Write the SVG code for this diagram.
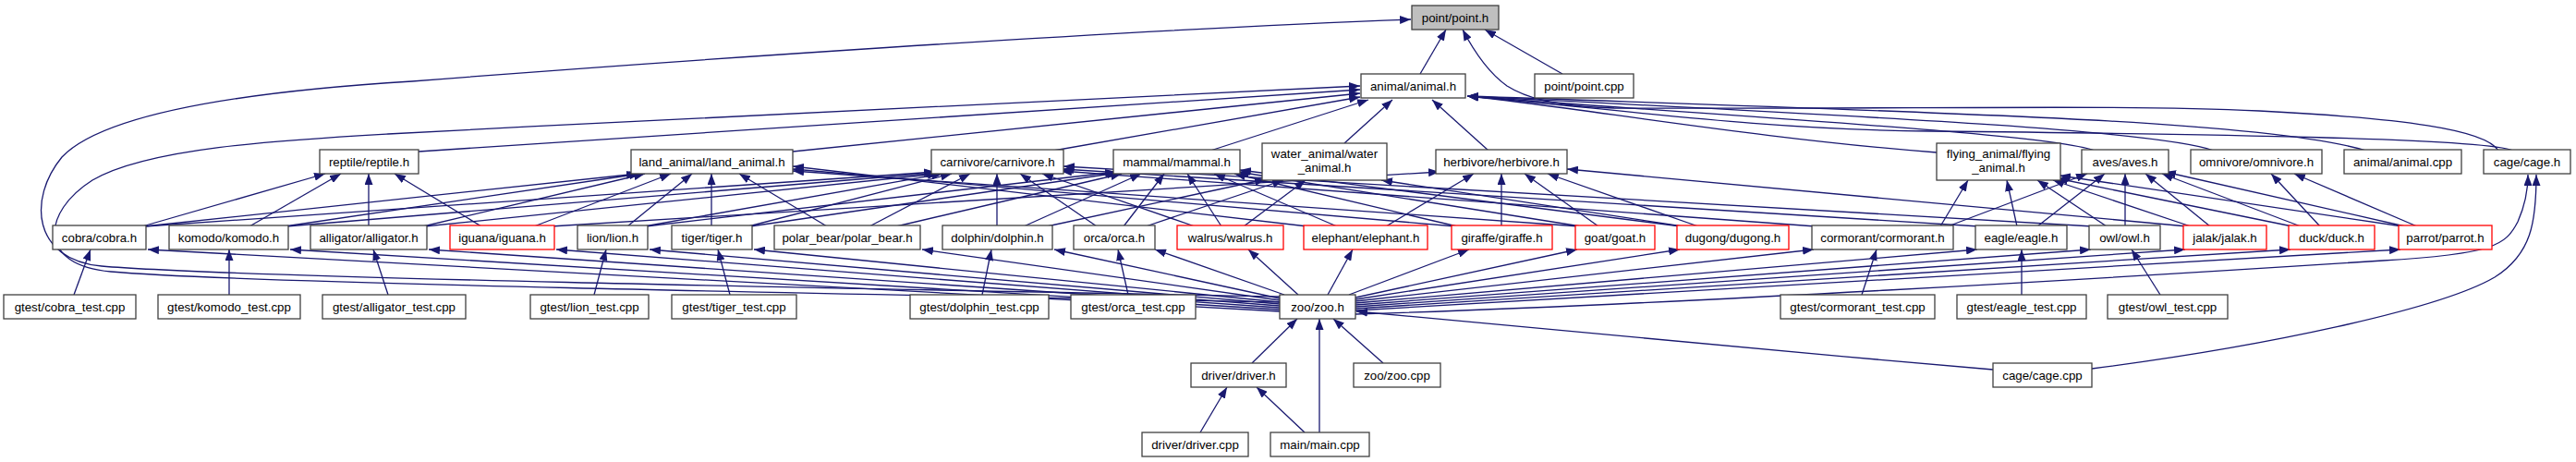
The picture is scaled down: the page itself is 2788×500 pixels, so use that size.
<svg xmlns="http://www.w3.org/2000/svg" width="2788" height="500" viewBox="0 0 2788 500">
<defs>
<marker id="ah" viewBox="0 0 12 9" refX="12" refY="4.5" markerWidth="12" markerHeight="9" orient="auto" markerUnits="userSpaceOnUse"><path d="M0,0 L12,4.5 L0,9 z" fill="#191970"/></marker>
<style>
.n rect{fill:#fff;stroke:#404040;stroke-width:1.3}
.n.r rect{stroke:#ff0000}
.n.root rect{fill:#bfbfbf}
text{font-family:"Liberation Sans",Arial,sans-serif;font-size:13.3px;text-anchor:middle;fill:#000}
.e path{fill:none;stroke:#191970;stroke-width:1.3;marker-end:url(#ah)}
</style>
</defs>
<rect width="2788" height="500" fill="#fff"/>
<g id="edges" class="e">
<path d="M1537,80 L1565,32"/>
<path d="M1691,80 L1607,32"/>
<path d="M2704,163 C2690,140 2600,128 2445,120 C2300,113 2100,118 1747,117 C1680,115 1650,105 1631,93 C1610,78 1595,55 1583,32"/>
<path d="M1385,321 C900,312 250,300 110,288 C35,281 30,215 67,170 C110,125 250,100 446,88 C700,68 1200,33 1527,21"/>
<path d="M1385,327 C900,318 250,306 120,294 C40,287 45,230 100,195 C160,160 300,152 420,145 C800,125 1200,105 1472,93"/>
<path d="M453,164 L1472,97"/>
<path d="M858,164 L1472,101"/>
<path d="M1140,163 L1472,105"/>
<path d="M1310,163 L1481,108"/>
<path d="M1455,155 L1507,108"/>
<path d="M1611,163 L1550,108"/>
<path d="M2096,165 C1900,150 1700,115 1588,104"/>
<path d="M2267,163 C2220,145 1900,128 1588,104"/>
<path d="M2396,163 C2330,140 2000,125 1588,104"/>
<path d="M2561,163 C2450,130 2100,122 1588,104"/>
<path d="M2720,163 C2690,150 2400,145 2088,142 C1900,140 1750,118 1588,104"/>
<path d="M154,245 L352,188"/>
<path d="M270,245 L369,188"/>
<path d="M399,245 L399,188"/>
<path d="M521,245 L427,188"/>
<path d="M156,245 L690,188"/>
<path d="M308,245 L693,188"/>
<path d="M458,245 L698,188"/>
<path d="M578,245 L726,188"/>
<path d="M679,245 L749,188"/>
<path d="M770,245 L770,188"/>
<path d="M895,245 L800,188"/>
<path d="M1415,245 L858,180"/>
<path d="M1575,245 L858,183"/>
<path d="M1709,245 L858,185"/>
<path d="M157,245 L1012,186"/>
<path d="M310,245 L1014,187"/>
<path d="M460,245 L1016,188"/>
<path d="M697,245 L1020,188"/>
<path d="M810,245 L1030,188"/>
<path d="M941,245 L1050,188"/>
<path d="M1079,245 L1079,188"/>
<path d="M1187,245 L1104,188"/>
<path d="M1293,245 L1128,188"/>
<path d="M1965,245 L1148,185"/>
<path d="M2142,245 L1150,183"/>
<path d="M2265,245 L1151,180"/>
<path d="M699,245 L1208,186"/>
<path d="M812,245 L1210,187"/>
<path d="M970,245 L1214,188"/>
<path d="M1108,245 L1235,188"/>
<path d="M1216,245 L1260,188"/>
<path d="M1322,245 L1285,188"/>
<path d="M1447,245 L1314,188"/>
<path d="M1577,245 L1336,188"/>
<path d="M1711,245 L1340,186"/>
<path d="M1819,245 L1342,184"/>
<path d="M1133,245 L1370,194"/>
<path d="M1240,245 L1389,195"/>
<path d="M1346,245 L1413,195"/>
<path d="M1821,245 L1495,195"/>
<path d="M596,245 L1558,186"/>
<path d="M1500,245 L1595,188"/>
<path d="M1625,245 L1625,188"/>
<path d="M1730,245 L1650,188"/>
<path d="M1838,245 L1675,188"/>
<path d="M2367,245 L1696,183"/>
<path d="M2100,245 L2130,195"/>
<path d="M2183,245 L2172,195"/>
<path d="M2280,245 L2205,195"/>
<path d="M2371,245 L2222,195"/>
<path d="M2481,245 L2226,193"/>
<path d="M2600,245 L2229,190"/>
<path d="M2108,245 L2259,188"/>
<path d="M2205,245 L2278,188"/>
<path d="M2300,245 L2300,188"/>
<path d="M2392,245 L2322,188"/>
<path d="M2490,245 L2340,188"/>
<path d="M2603,245 L2343,186"/>
<path d="M2511,245 L2458,188"/>
<path d="M2616,245 L2483,188"/>
<path d="M1385,337 L160,270"/>
<path d="M1385,335 L314,270"/>
<path d="M1385,333 L464,270"/>
<path d="M1385,331 L602,270"/>
<path d="M1385,329 L703,270"/>
<path d="M1385,327 L816,270"/>
<path d="M1385,325 L998,270"/>
<path d="M1385,323 L1141,270"/>
<path d="M1390,319 L1250,270"/>
<path d="M1405,319 L1351,270"/>
<path d="M1437,319 L1464,270"/>
<path d="M1460,319 L1590,270"/>
<path d="M1467,322 L1707,270"/>
<path d="M1467,324 L1818,270"/>
<path d="M1467,326 L1963,270"/>
<path d="M1467,328 L2140,270"/>
<path d="M1467,330 L2263,270"/>
<path d="M1467,332 L2365,270"/>
<path d="M1467,334 L2479,270"/>
<path d="M1467,336 L2598,270"/>
<path d="M80,319 L98,270"/>
<path d="M248,319 L248,270"/>
<path d="M420,319 L404,270"/>
<path d="M643,319 L656,270"/>
<path d="M790,319 L777,270"/>
<path d="M1063,319 L1073,270"/>
<path d="M1221,319 L1210,270"/>
<path d="M2015,319 L2031,270"/>
<path d="M2188,319 L2188,270"/>
<path d="M2338,319 L2307,270"/>
<path d="M1355,393 L1404,345"/>
<path d="M1497,393 L1443,345"/>
<path d="M1428,468 L1428,345"/>
<path d="M1299,468 L1328,419"/>
<path d="M1412,468 L1360,419"/>
<path d="M2157,400 C1900,378 1600,350 1468,337"/>
<path d="M2264,399 C2450,375 2640,335 2700,300 C2740,275 2745,240 2745,189"/>
<path d="M1467,340 C1800,330 2300,300 2579,282 C2700,275 2712,265 2725,240 C2733,222 2736,205 2736,189"/>
</g>
<g id="n_point_h" class="n root"><rect x="1528" y="6" width="94" height="26"/><text x="1575" y="23.5">point/point.h</text></g>
<g id="n_animal_h" class="n"><rect x="1473" y="80" width="113" height="26"/><text x="1529.5" y="97.5">animal/animal.h</text></g>
<g id="n_point_cpp" class="n"><rect x="1661" y="80" width="107" height="26"/><text x="1714.5" y="97.5">point/point.cpp</text></g>
<g id="n_reptile" class="n"><rect x="346" y="162" width="107" height="26"/><text x="399.5" y="179.5">reptile/reptile.h</text></g>
<g id="n_land_animal" class="n"><rect x="683" y="162" width="175" height="26"/><text x="770.5" y="179.5">land_animal/land_animal.h</text></g>
<g id="n_carnivore" class="n"><rect x="1008" y="162" width="143" height="26"/><text x="1079.5" y="179.5">carnivore/carnivore.h</text></g>
<g id="n_mammal" class="n"><rect x="1205" y="162" width="137" height="26"/><text x="1273.5" y="179.5">mammal/mammal.h</text></g>
<g id="n_water_animal" class="n"><rect x="1366" y="155" width="135" height="40"/><text x="1433.5" y="171">water_animal/water</text><text x="1433.5" y="186">_animal.h</text></g>
<g id="n_herbivore" class="n"><rect x="1554" y="162" width="142" height="26"/><text x="1625" y="179.5">herbivore/herbivore.h</text></g>
<g id="n_flying_animal" class="n"><rect x="2096" y="155" width="134" height="40"/><text x="2163" y="171">flying_animal/flying</text><text x="2163" y="186">_animal.h</text></g>
<g id="n_aves" class="n"><rect x="2253" y="162" width="94" height="26"/><text x="2300" y="179.5">aves/aves.h</text></g>
<g id="n_omnivore" class="n"><rect x="2371" y="162" width="142" height="26"/><text x="2442" y="179.5">omnivore/omnivore.h</text></g>
<g id="n_animal_cpp" class="n"><rect x="2537" y="162" width="127" height="26"/><text x="2600.5" y="179.5">animal/animal.cpp</text></g>
<g id="n_cage_h" class="n"><rect x="2688" y="162" width="94" height="26"/><text x="2735" y="179.5">cage/cage.h</text></g>
<g id="n_cobra" class="n"><rect x="57" y="244" width="101" height="26"/><text x="107.5" y="261.5">cobra/cobra.h</text></g>
<g id="n_komodo" class="n"><rect x="183" y="244" width="129" height="26"/><text x="247.5" y="261.5">komodo/komodo.h</text></g>
<g id="n_alligator" class="n"><rect x="336" y="244" width="126" height="26"/><text x="399" y="261.5">alligator/alligator.h</text></g>
<g id="n_iguana" class="n r"><rect x="487" y="244" width="113" height="26"/><text x="543.5" y="261.5">iguana/iguana.h</text></g>
<g id="n_lion" class="n"><rect x="625" y="244" width="76" height="26"/><text x="663" y="261.5">lion/lion.h</text></g>
<g id="n_tiger" class="n"><rect x="727" y="244" width="87" height="26"/><text x="770.5" y="261.5">tiger/tiger.h</text></g>
<g id="n_polar_bear" class="n"><rect x="838" y="244" width="158" height="26"/><text x="917" y="261.5">polar_bear/polar_bear.h</text></g>
<g id="n_dolphin" class="n"><rect x="1020" y="244" width="119" height="26"/><text x="1079.5" y="261.5">dolphin/dolphin.h</text></g>
<g id="n_orca" class="n"><rect x="1162" y="244" width="88" height="26"/><text x="1206" y="261.5">orca/orca.h</text></g>
<g id="n_walrus" class="n r"><rect x="1274" y="244" width="115" height="26"/><text x="1331.5" y="261.5">walrus/walrus.h</text></g>
<g id="n_elephant" class="n r"><rect x="1411" y="244" width="134" height="26"/><text x="1478" y="261.5">elephant/elephant.h</text></g>
<g id="n_giraffe" class="n r"><rect x="1571" y="244" width="109" height="26"/><text x="1625.5" y="261.5">giraffe/giraffe.h</text></g>
<g id="n_goat" class="n r"><rect x="1705" y="244" width="86" height="26"/><text x="1748" y="261.5">goat/goat.h</text></g>
<g id="n_dugong" class="n r"><rect x="1815" y="244" width="121" height="26"/><text x="1875.5" y="261.5">dugong/dugong.h</text></g>
<g id="n_cormorant" class="n"><rect x="1961" y="244" width="153" height="26"/><text x="2037.5" y="261.5">cormorant/cormorant.h</text></g>
<g id="n_eagle" class="n"><rect x="2138" y="244" width="99" height="26"/><text x="2187.5" y="261.5">eagle/eagle.h</text></g>
<g id="n_owl" class="n"><rect x="2261" y="244" width="77" height="26"/><text x="2299.5" y="261.5">owl/owl.h</text></g>
<g id="n_jalak" class="n r"><rect x="2363" y="244" width="90" height="26"/><text x="2408" y="261.5">jalak/jalak.h</text></g>
<g id="n_duck" class="n r"><rect x="2477" y="244" width="93" height="26"/><text x="2523.5" y="261.5">duck/duck.h</text></g>
<g id="n_parrot" class="n r"><rect x="2596" y="244" width="101" height="26"/><text x="2646.5" y="261.5">parrot/parrot.h</text></g>
<g id="n_cobra_test" class="n"><rect x="4" y="319" width="143" height="26"/><text x="75.5" y="336.5">gtest/cobra_test.cpp</text></g>
<g id="n_komodo_test" class="n"><rect x="171" y="319" width="154" height="26"/><text x="248" y="336.5">gtest/komodo_test.cpp</text></g>
<g id="n_alligator_test" class="n"><rect x="349" y="319" width="155" height="26"/><text x="426.5" y="336.5">gtest/alligator_test.cpp</text></g>
<g id="n_lion_test" class="n"><rect x="574" y="319" width="128" height="26"/><text x="638" y="336.5">gtest/lion_test.cpp</text></g>
<g id="n_tiger_test" class="n"><rect x="727" y="319" width="135" height="26"/><text x="794.5" y="336.5">gtest/tiger_test.cpp</text></g>
<g id="n_dolphin_test" class="n"><rect x="985" y="319" width="150" height="26"/><text x="1060" y="336.5">gtest/dolphin_test.cpp</text></g>
<g id="n_orca_test" class="n"><rect x="1159" y="319" width="135" height="26"/><text x="1226.5" y="336.5">gtest/orca_test.cpp</text></g>
<g id="n_zoo_h" class="n"><rect x="1385" y="319" width="82" height="26"/><text x="1426" y="336.5">zoo/zoo.h</text></g>
<g id="n_cormorant_test" class="n"><rect x="1927" y="319" width="167" height="26"/><text x="2010.5" y="336.5">gtest/cormorant_test.cpp</text></g>
<g id="n_eagle_test" class="n"><rect x="2118" y="319" width="140" height="26"/><text x="2188" y="336.5">gtest/eagle_test.cpp</text></g>
<g id="n_owl_test" class="n"><rect x="2281" y="319" width="130" height="26"/><text x="2346" y="336.5">gtest/owl_test.cpp</text></g>
<g id="n_driver_h" class="n"><rect x="1289" y="393" width="103" height="26"/><text x="1340.5" y="410.5">driver/driver.h</text></g>
<g id="n_zoo_cpp" class="n"><rect x="1465" y="393" width="94" height="26"/><text x="1512" y="410.5">zoo/zoo.cpp</text></g>
<g id="n_cage_cpp" class="n"><rect x="2157" y="393" width="107" height="26"/><text x="2210.5" y="410.5">cage/cage.cpp</text></g>
<g id="n_driver_cpp" class="n"><rect x="1236" y="468" width="115" height="26"/><text x="1293.5" y="485.5">driver/driver.cpp</text></g>
<g id="n_main_cpp" class="n"><rect x="1375" y="468" width="107" height="26"/><text x="1428.5" y="485.5">main/main.cpp</text></g>
</svg>
